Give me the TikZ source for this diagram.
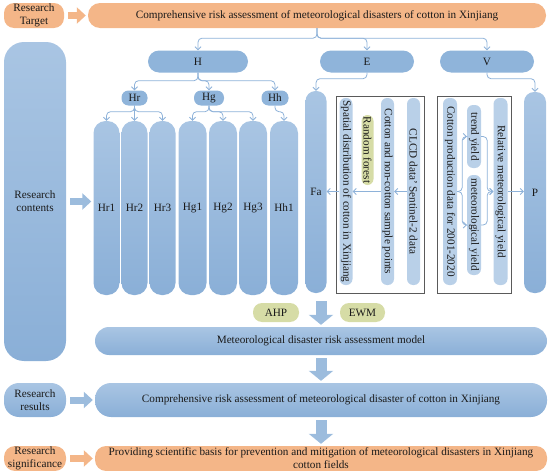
\documentclass[tikz,border=0pt]{standalone}
\usepackage{fontspec}
\setmainfont{Liberation Serif}
\usetikzlibrary{arrows.meta}
\definecolor{bA}{HTML}{A9C5E3}
\definecolor{bB}{HTML}{8AAFD7}
\definecolor{bL}{HTML}{B9D0E8}
\definecolor{bH}{HTML}{8FB4DA}
\definecolor{orA}{HTML}{F4B688}
\definecolor{grA}{HTML}{D6DCA6}
\definecolor{lineB}{HTML}{8EB2D9}
\definecolor{arB}{HTML}{9CBCDD}
\definecolor{frm}{HTML}{5A5A5A}
\definecolor{txt}{HTML}{1A1A1A}
\begin{document}
\begin{tikzpicture}[x=1pt,y=-1pt,
  every node/.style={font=\fontsize{11.2}{13}\selectfont, text=txt, inner sep=0pt, align=center},
  sz/.style 2 args={minimum width=#1pt, minimum height=#2pt},
  bluebox/.style={top color=bA, bottom color=bB, draw=none},
  hbox/.style={fill=bH},
  orbox/.style={fill=orA},
  grbox/.style={fill=grA},
  inpill/.style={fill=bL},
  vpill/.style={rotate=-90, rounded corners=6pt},
  frame/.style={draw=frm, line width=0.7pt},
  conn/.style={draw=lineB, line width=0.8pt, -{Straight Barb[length=3pt,width=6pt]}, rounded corners=4pt},
  blkh/.style={draw=arB, line width=7pt, -{Triangle[length=9pt,width=16pt]}, shorten <=4pt, shorten >=2pt},
  blkho/.style={blkh, draw=orA},
  blkv/.style={draw=arB, line width=11pt, -{Triangle[length=10pt,width=24pt]}, shorten <=3pt, shorten >=2pt},
]
\useasboundingbox (0,0) rectangle (550,471);
% top row
\node[orbox, rounded corners=10pt, sz={60}{25}] (rt) at (34,15.5) {Research\\Target};
\node[orbox, rounded corners=12pt, sz={458}{25}] (top) at (317,15.5) {Comprehensive risk assessment of meteorological disasters of cotton in Xinjiang};
% research contents
\node[bluebox, rounded corners=20pt, sz={62}{319}] (rc) at (35,201.5) {Research\\contents};
% H E V
\node[hbox, rounded corners=11pt, sz={100}{22}] (H) at (198,61.5) {H};
\node[hbox, rounded corners=11pt, sz={94}{22}] (E) at (367,61.5) {E};
\node[hbox, rounded corners=11pt, sz={94}{22}] (V) at (487,61.5) {V};
\node[hbox, rounded corners=7pt, sz={26}{15}] (Hr) at (134.5,98) {Hr};
\node[hbox, rounded corners=7pt, sz={30}{15}] (Hg) at (209,98) {Hg};
\node[hbox, rounded corners=7pt, sz={27}{15}] (Hh) at (275,98) {Hh};
% columns
\foreach \n/\x/\w in {Hr1/106.5/26, Hr2/134.5/26, Hr3/162.5/26, Hg1/192.5/28, Hg2/223/28, Hg3/253/28, Hh1/284/28}
  \node[bluebox, rounded corners=12pt, sz={\w}{174}] (\n) at (\x,208) {\n};
\node[bluebox, rounded corners=10pt, sz={21}{202}] (Fa) at (316,192) {Fa};
\node[bluebox, rounded corners=10pt, sz={22}{201}] (P) at (535,192.5) {P};
% frames
\node[frame, sz={88}{197}] (ef) at (380,194.5) {};
\node[frame, sz={74}{197}] (vf) at (474,194.5) {};
% E inner
\node[vpill, inpill, sz={187}{13}] (sp) at (346,191.5) {Spatial distribution of cotton in Xinjiang};
\node[vpill, grbox, sz={70}{12}] (rf) at (367.5,150) {Random forest};
\node[vpill, inpill, sz={187}{13}] (cn) at (387.5,191.5) {Cotton and non-cotton sample points};
\node[vpill, inpill, sz={187}{13}] (cl) at (413.5,191.5) {CLCD data’ Sentinel-2 data};
% V inner
\node[vpill, inpill, sz={187}{14}] (cp) at (450,191.5) {Cotton production data for 2001-2020};
\node[vpill, inpill, sz={63}{14}] (ty) at (474,136.5) {trend yield};
\node[vpill, inpill, sz={100}{14}] (my) at (474,225) {meteorological yield};
\node[vpill, inpill, sz={187}{14}] (rel) at (500.5,191.5) {Relative meteorological yield};
% bottom
\node[grbox, rounded corners=9pt, sz={46}{19}] (ahp) at (276,312.5) {AHP};
\node[grbox, rounded corners=9pt, sz={45}{19}] (ewm) at (362.5,312.5) {EWM};
\node[bluebox, rounded corners=14pt, sz={452}{28}] (model) at (321,341) {Meteorological disaster risk assessment model};
\node[bluebox, rounded corners=16pt, sz={452}{34}] (res) at (321,400) {Comprehensive risk assessment of meteorological disaster of cotton in Xinjiang};
\node[bluebox, rounded corners=15pt, sz={62}{34}] (rr) at (35,400) {Research\\results};
\node[orbox, rounded corners=11pt, sz={452}{25}] (sig) at (321,458.5) {Providing scientific basis for prevention and mitigation of meteorological disasters in Xinjiang\\cotton fields};
\node[orbox, rounded corners=11pt, sz={62}{25}] (rs) at (35,458.5) {Research\\significance};
\coordinate (d1) at (321,298);
% connectors
\draw[conn] (top.south) -- ++(0,10) -| (H.north);
\draw[conn] (top.south) -- ++(0,10) -| (E.north);
\draw[conn] (top.south) -- ++(0,10) -| (V.north);
\draw[conn] (H.south) -- ++(0,8) -| (Hr.north);
\draw[conn] (H.south) -- ++(0,8) -| (Hg.north);
\draw[conn] (H.south) -- ++(0,8) -| (Hh.north);
\draw[conn] (Hr.south) -- ++(0,6) -| (Hr1.north);
\draw[conn] (Hr.south) -- (Hr2.north);
\draw[conn] (Hr.south) -- ++(0,6) -| (Hr3.north);
\draw[conn] (Hg.south) -- ++(0,6) -| (Hg1.north);
\draw[conn] (Hg.south) -- ++(0,6) -| (Hg2.north);
\draw[conn] (Hg.south) -- ++(0,6) -| (Hg3.north);
\draw[conn] (Hh.south) -- ++(0,6) -| (Hh1.north);
\draw[conn] (E.south) -- ++(0,6) -| (Fa.north);
\draw[conn] (V.south) -- ++(0,6) -| (P.north);
\draw[conn] (cl.south) -- (cn.north);
\draw[conn] (cn.south) -- (sp.north);
\draw[conn] (sp.south) -- (sp.south -| Fa.east);
\draw[conn] (cp.north) -- ++(5,0) |- (ty.south);
\draw[conn] (cp.north) -- ++(5,0) |- (my.south);
\draw[conn] (ty.north) -- ++(6,0) |- (rel.south);
\draw[conn] (my.north) -- ++(6,0) |- (rel.south);
\draw[conn] (rel.north) -- (rel.north -| P.west);
% block arrows
\draw[blkho] (rt.east) -- (top.west);
\draw[blkh] (rc.east) -- (rc.east -| Hr1.west);
\draw[blkv] (d1) -- (model.north);
\draw[blkv] (model.south) -- (res.north);
\draw[blkh] (rr.east) -- (res.west);
\draw[blkv] (res.south) -- (sig.north);
\draw[blkho] (rs.east) -- (sig.west);
\end{tikzpicture}
\end{document}
